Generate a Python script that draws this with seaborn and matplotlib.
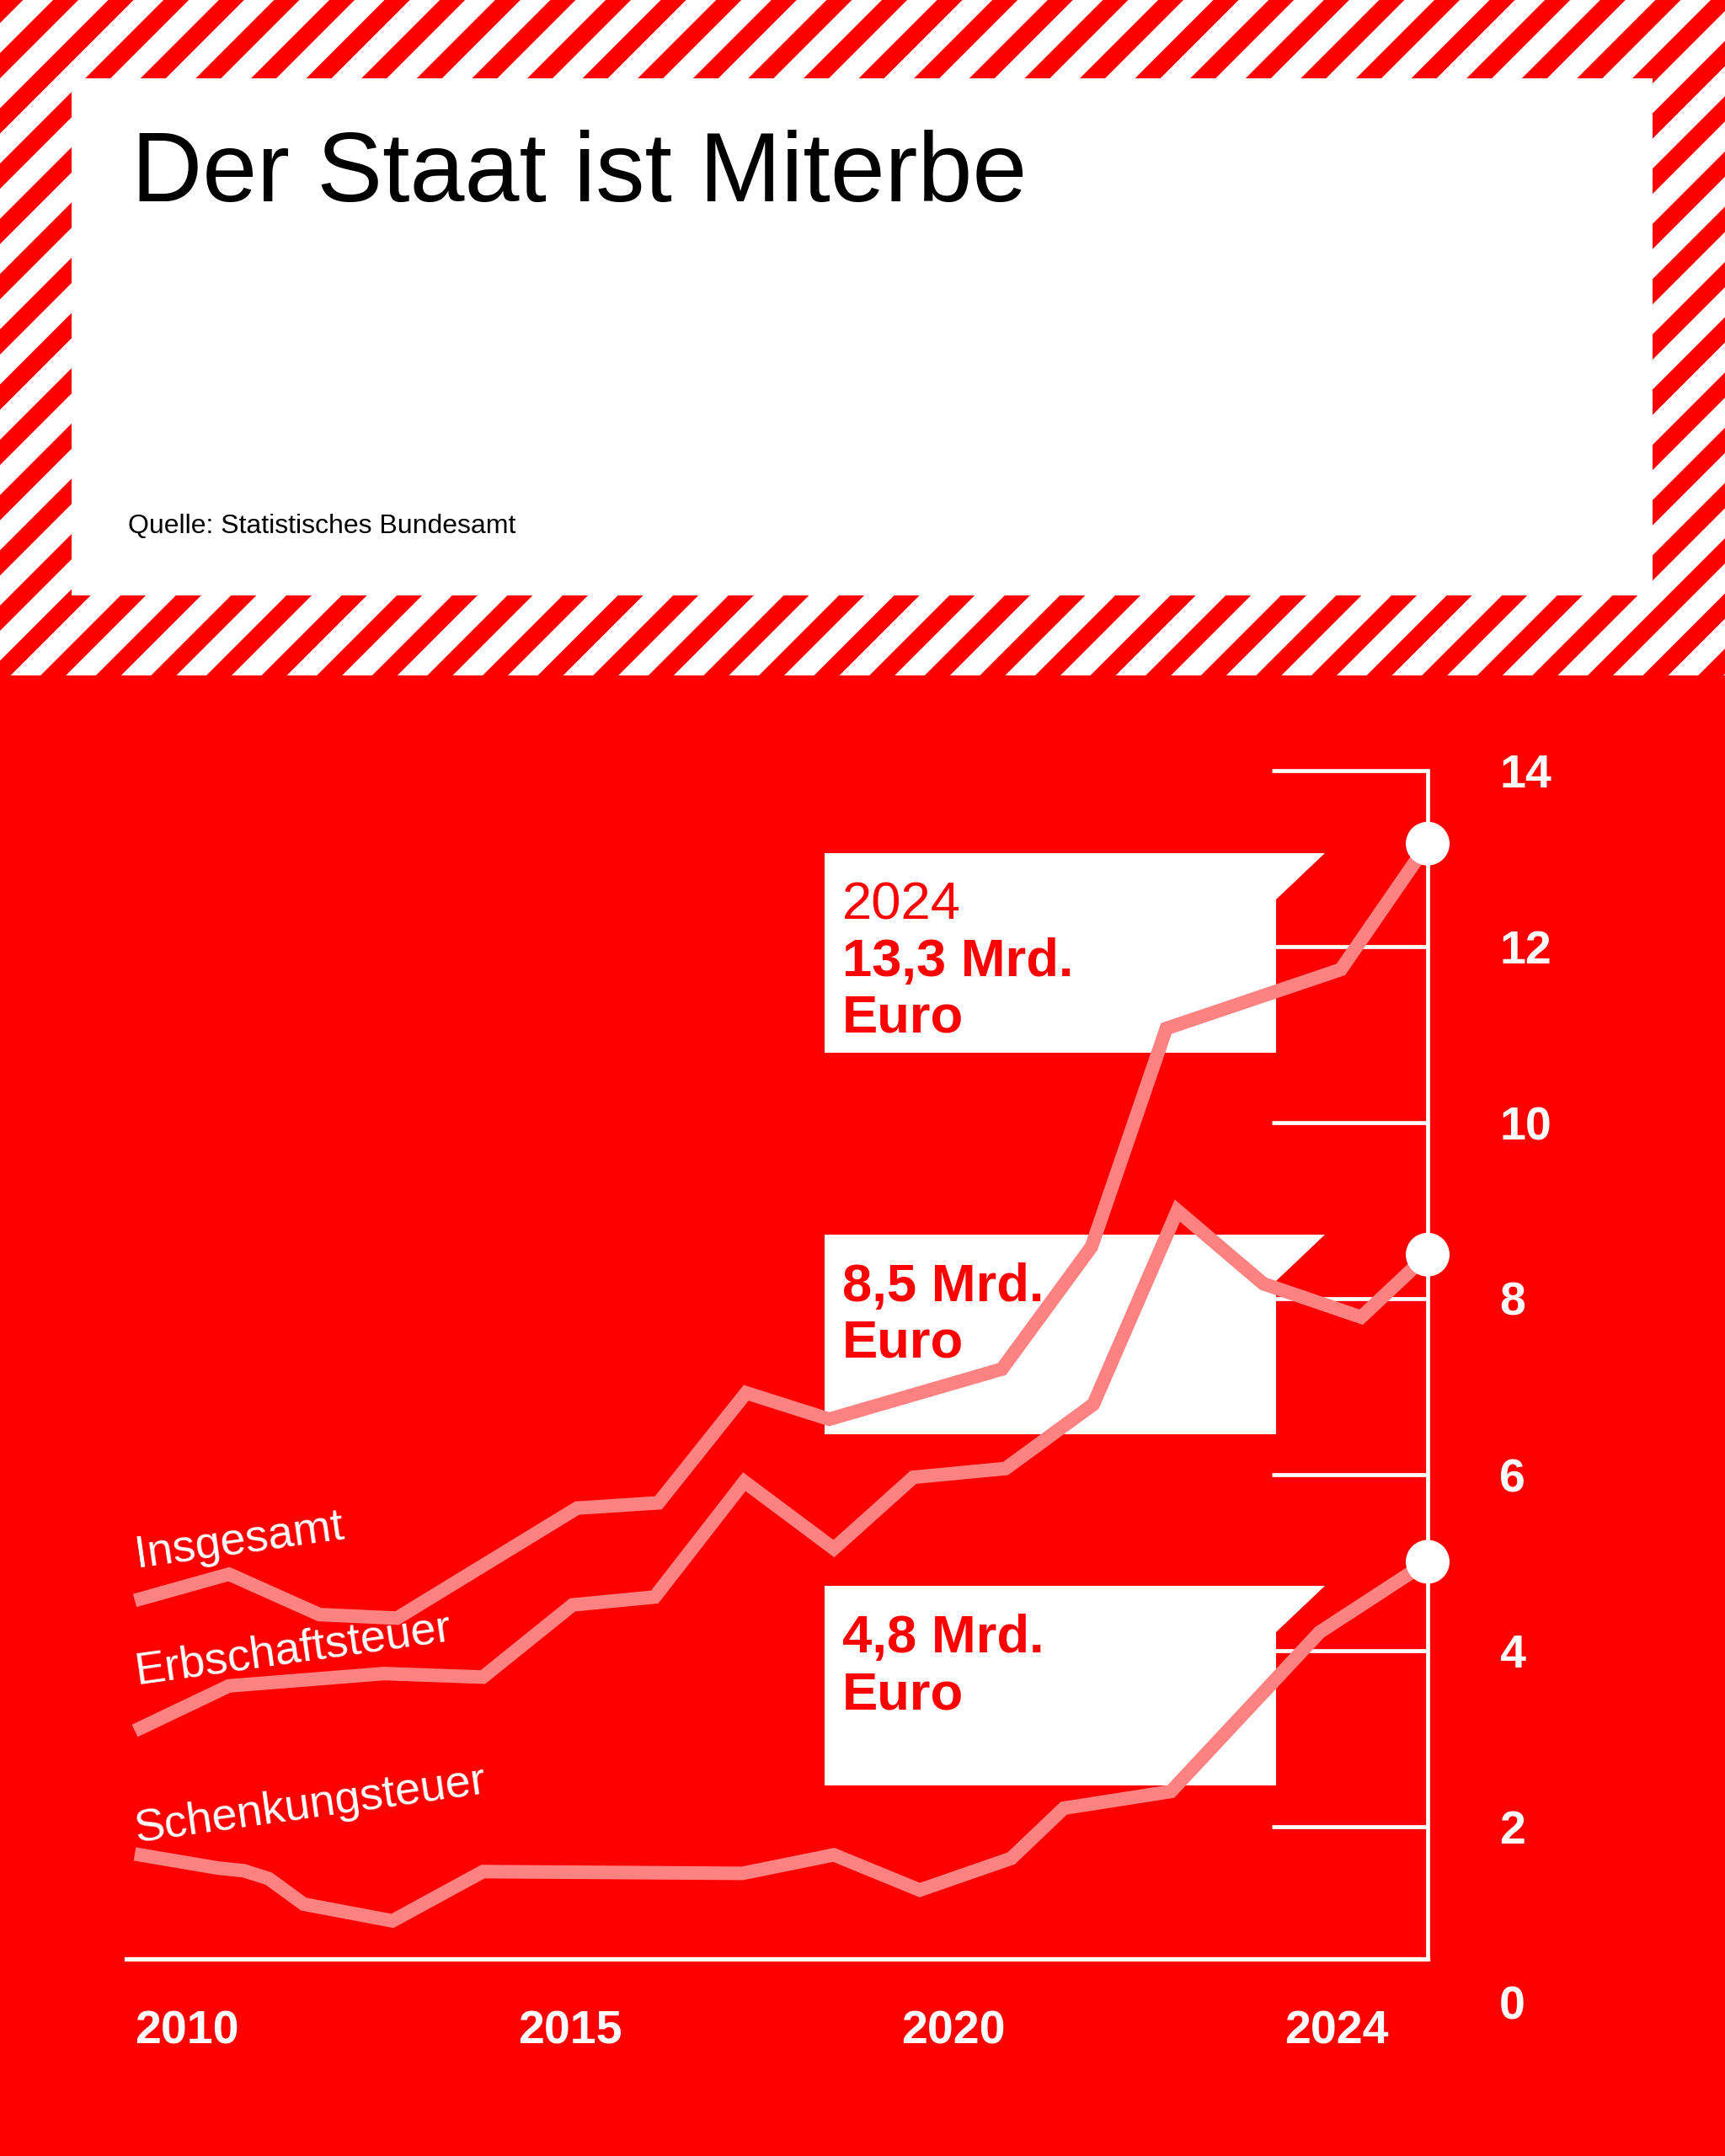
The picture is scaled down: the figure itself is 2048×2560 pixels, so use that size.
import numpy as np
import pandas as pd
import matplotlib
matplotlib.use("Agg")
import matplotlib.pyplot as plt
import matplotlib.transforms as mtransforms
from matplotlib.patches import Polygon, Rectangle
import seaborn as sns

# ---------------- data ----------------
series_names = ["Insgesamt", "Erbschaftsteuer", "Schenkungsteuer"]
insgesamt_x = [2010.0, 2011.02, 2012.0, 2012.84, 2014.79, 2015.67, 2016.62,
               2017.52, 2019.39, 2020.36, 2021.17, 2023.06, 2024.0]
insgesamt_y = [4.57, 4.87, 4.41, 4.37, 5.62, 5.68, 6.93,
               6.63, 7.20, 8.59, 11.07, 11.74, 13.17]
erbschaft_x = [2010.0, 2011.02, 2012.70, 2013.77, 2014.74, 2015.63, 2016.60,
               2017.57, 2018.43, 2019.43, 2020.38, 2021.29, 2022.22, 2023.28, 2024.0]
erbschaft_y = [3.09, 3.60, 3.74, 3.70, 4.52, 4.61, 5.92,
               5.16, 5.97, 6.07, 6.80, 9.00, 8.17, 7.79, 8.50]
schenkung_x = [2010.0, 2010.90, 2011.18, 2011.45, 2011.83, 2012.79, 2013.77,
               2016.58, 2017.57, 2018.50, 2019.49, 2020.06, 2021.22, 2022.83, 2024.0]
schenkung_y = [1.69, 1.53, 1.50, 1.41, 1.12, 0.93, 1.49,
               1.47, 1.68, 1.28, 1.64, 2.21, 2.40, 4.21, 5.01]
year_labels = ["2010", "2015", "2020", "2024"]
y_ticks = [0, 2, 4, 6, 8, 10, 12, 14]
callout_year = "2024"
callout_values = ["13,3", "8,5", "4,8"]
title_text = "Der Staat ist Miterbe"
source_text = "Quelle: Statistisches Bundesamt"

# ---------------- style ----------------
RED = "#ff0000"
PINK = "#ff8282"
WHITE = "#ffffff"
sns.set_style("white")
plt.rcParams["font.family"] = ["Liberation Sans", "DejaVu Sans"]

W, H, DPI = 2048, 2560, 200
fig = plt.figure(figsize=(W / DPI, H / DPI), dpi=DPI)
# pixel transform (origin top-left, y downward)
px = mtransforms.Affine2D().scale(1 / W, -1 / H).translate(0, 1) + fig.transFigure

# ---------------- background ----------------
bg = fig.add_axes([0, 0, 1, 1], zorder=0)
bg.set_xlim(0, W)
bg.set_ylim(H, 0)
bg.axis("off")
STRIPE_H = 802
bg.add_patch(Rectangle((0, 0), W, STRIPE_H, facecolor=WHITE, edgecolor="none"))
clip_rect = Rectangle((0, 0), W, STRIPE_H, transform=bg.transData)
period, width, phase = 65.6, 30.0, 63.0
k = -20
while phase + period * k < W + STRIPE_H + 100:
    c1 = phase + period * k
    c2 = c1 + width
    poly = Polygon([(c1, 0), (c2, 0), (c2 - STRIPE_H, STRIPE_H), (c1 - STRIPE_H, STRIPE_H)],
                   closed=True, facecolor=RED, edgecolor="none")
    bg.add_patch(poly)
    poly.set_clip_path(clip_rect)
    k += 1
bg.add_patch(Rectangle((0, STRIPE_H), W, H - STRIPE_H, facecolor=RED, edgecolor="none"))
bg.add_patch(Rectangle((85, 93), 1962 - 85, 707 - 93, facecolor=WHITE, edgecolor="none"))
bg.text(156, 239, title_text, fontsize=42, color="black", ha="left", va="baseline")
bg.text(152, 633, source_text, fontsize=11.5, color="black", ha="left", va="baseline")

# ---------------- chart axes ----------------
X0, X1 = 2010, 2024
PX_L, PX_R, PX_T, PX_B = 160, 1695, 915, 2378
ax = fig.add_axes([PX_L / W, 1 - PX_B / H, (PX_R - PX_L) / W, (PX_B - PX_T) / H], zorder=1)
ax.patch.set_visible(False)
ax.set_xlim(X0, X1)
ax.set_ylim(0, 14)
ax.set_axisbelow(True)

df = pd.concat([
    pd.DataFrame({"Jahr": insgesamt_x, "Mrd": insgesamt_y, "Serie": series_names[0]}),
    pd.DataFrame({"Jahr": erbschaft_x, "Mrd": erbschaft_y, "Serie": series_names[1]}),
    pd.DataFrame({"Jahr": schenkung_x, "Mrd": schenkung_y, "Serie": series_names[2]}),
], ignore_index=True)

sns.lineplot(data=df, x="Jahr", y="Mrd", hue="Serie", units="Serie", estimator=None,
             sort=False, palette={n: PINK for n in series_names}, linewidth=5.8,
             legend=False, ax=ax)
for ln in ax.lines:
    ln.set_solid_capstyle("butt")
    ln.set_solid_joinstyle("miter")
    ln.set_clip_on(False)
    ln.set_zorder(3)

ends = df.groupby("Serie", sort=False).tail(1)
sns.scatterplot(data=ends, x="Jahr", y="Mrd", color=WHITE, s=350, edgecolor="none",
                zorder=4, clip_on=False, legend=False, ax=ax)

# spines
for s in ["top", "left"]:
    ax.spines[s].set_visible(False)
px_per_year = (PX_R - PX_L) / (X1 - X0)
BASE = 0.5
ax.spines["right"].set_color(WHITE)
ax.spines["right"].set_linewidth(1.7)
ax.spines["right"].set_bounds(BASE, 14)
ax.spines["bottom"].set_color(WHITE)
ax.spines["bottom"].set_linewidth(1.9)
ax.spines["bottom"].set_position(("data", BASE))
ax.spines["bottom"].set_bounds(X0 - 10 / px_per_year, X1)

# y ticks on the right, drawn inward as horizontal gridlines
ax.yaxis.tick_right()
ax.set_yticks(y_ticks)
ax.set_yticklabels([str(t) for t in y_ticks])
ax.tick_params(axis="y", direction="in", length=185 * 72 / DPI, width=1.7,
               color=WHITE, labelcolor=WHITE, labelsize=20, pad=85 * 72 / DPI)
ax.yaxis.get_major_ticks()[0].tick2line.set_visible(False)
for lab in ax.get_yticklabels():
    lab.set_fontweight("bold")
    lab.set_ha("left")

# x ticks: evenly spaced, left-aligned labels
tick_pos = np.linspace(X0, X0 + 3 * 4.15, len(year_labels))
ax.set_xticks(tick_pos)
ax.set_xticklabels(year_labels)
ax.tick_params(axis="x", length=0, labelcolor=WHITE, labelsize=20, pad=22)
for lab in ax.get_xticklabels():
    lab.set_fontweight("bold")
    lab.set_ha("left")
ax.set_xlabel("")
ax.set_ylabel("")

# series labels
label_pos = [(162, 1861), (162, 2000), (162, 2187)]
for name, (lx, ly) in zip(series_names, label_pos):
    ax.text(lx, ly, name, transform=px, fontsize=19.5, color=WHITE, rotation=8,
            rotation_mode="anchor", ha="left", va="baseline", zorder=5)

# callout boxes
box_tops = [1013, 1466, 1883]
BL, BR, FR, NOTCH, BH = 979, 1515, 1573, 55, 237
for i, (top, val) in enumerate(zip(box_tops, callout_values)):
    shape = Polygon([(BL, top), (FR, top), (BR, top + NOTCH), (BR, top + BH), (BL, top + BH)],
                    closed=True, transform=px, facecolor=WHITE, edgecolor="none",
                    zorder=1, clip_on=False)
    ax.add_patch(shape)
    lines = []
    if i == 0:
        lines.append((callout_year, "normal"))
    lines.append((f"{val} Mrd.", "bold"))
    lines.append(("Euro", "bold"))
    for j, (txt, wt) in enumerate(lines):
        ax.text(1000, top + 79 + 67 * j, txt, transform=px, fontsize=22.8, color=RED,
                fontweight=wt, ha="left", va="baseline", zorder=2)

fig.savefig("out.png", dpi=DPI)
